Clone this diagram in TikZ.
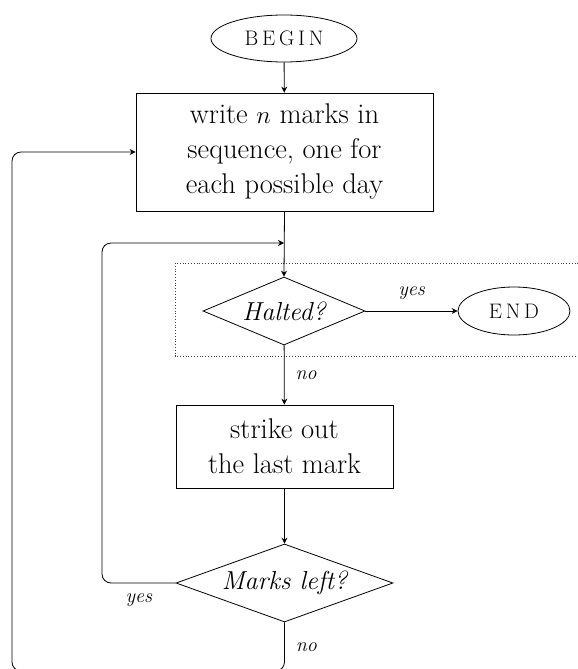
\documentclass[tikz,border=0pt]{standalone}
\usepackage{fontspec}
\newfontfamily\spacedcaps{Latin Modern Roman}[LetterSpace=18]
\usetikzlibrary{shapes.geometric,arrows.meta}
\begin{document}
\begin{tikzpicture}[x=1pt,y=-1pt,
  line width=0.8pt,
  term/.style={draw, ellipse, inner sep=0pt,
    font=\spacedcaps\fontsize{21}{23}\selectfont},
  proc/.style={draw, rectangle, align=center, inner sep=0pt,
    font=\fontsize{28.5}{35}\selectfont},
  decide/.style={draw, diamond, inner sep=0pt,
    font=\fontsize{26}{28}\selectfont\itshape},
  lbl/.style={font=\fontsize{20}{22}\selectfont\itshape, inner sep=1pt},
  flow/.style={-{Stealth[length=6pt,width=6pt,inset=2pt]}},
  zone/.style={dotted, line width=0.8pt, black!75},
]
\clip (0,0) rectangle (578,669);
\useasboundingbox (0,0) rectangle (578,669);

\draw[zone] (175,263) rectangle (600,356);

\node[term, minimum width=146pt, minimum height=47pt] (begin) at (284,38.5) {BEGIN};
\node[proc, minimum width=297pt, minimum height=118pt] (write) at (284.5,152)
  {write $n$ marks in\\sequence, one for\\each possible day};
\node[decide, minimum width=162pt, minimum height=68pt, aspect=2.38] (halted) at (284,311) {Halted?};
\node[term, minimum width=112pt, minimum height=48pt] (end) at (514,311) {END};
\node[proc, minimum width=217pt, minimum height=83pt] (strike) at (284.5,446.5)
  {strike out\\the last mark};
\node[decide, minimum width=217pt, minimum height=78pt, aspect=2.78] (marks) at (284.5,583) {Marks left?};

\coordinate (join1) at (284,243);
\coordinate (loopL) at (102,243);
\coordinate (bl) at (12,671);

\draw[flow] (begin) -- (write);
\draw[flow] (write.south) -- (halted.north);
\draw[flow] (halted) -- node[lbl, above=10pt] {yes} (end);
\draw[flow] (halted) -- node[lbl, right=10pt] {no} (strike);
\draw[flow] (strike) -- (marks);
\draw[flow, rounded corners=9pt] (marks.west) -| node[lbl, below=9pt, pos=0.25] {yes} (loopL) -- (join1);
\draw[flow, rounded corners=9pt] (marks.south) |- node[lbl, right=10pt, pos=0.25] {no} (bl) |- (write.west);
\end{tikzpicture}
\end{document}
